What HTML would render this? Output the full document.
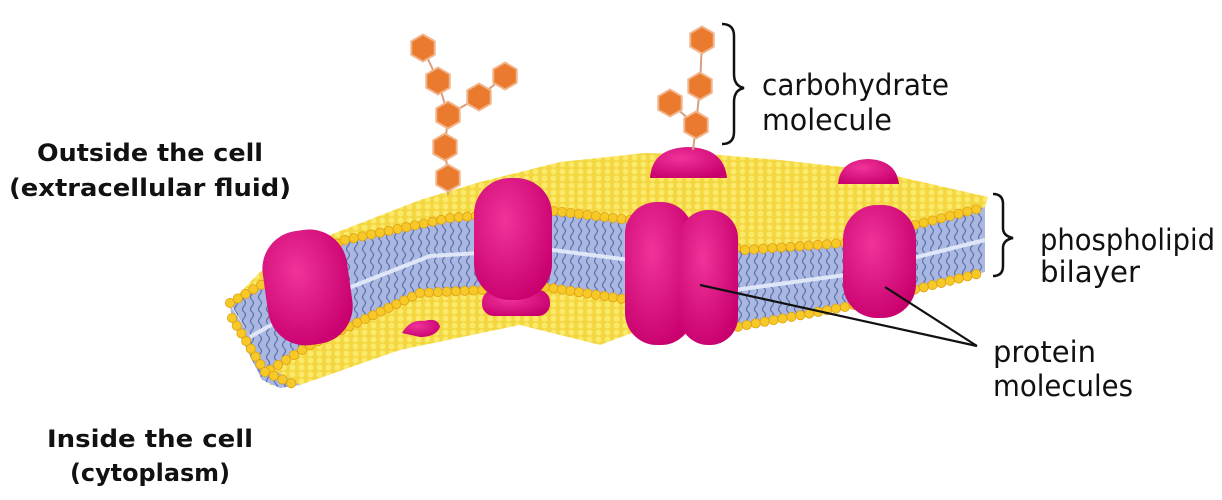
<!DOCTYPE html>
<html><head><meta charset="utf-8">
<style>
html,body{margin:0;padding:0;background:#fff;}
svg{display:block;}
text{font-family:"DejaVu Sans","Liberation Sans",sans-serif;fill:#111;}
</style></head>
<body>
<svg id="art" width="1222" height="500" viewBox="0 0 1222 500" xmlns="http://www.w3.org/2000/svg">
<defs>
<pattern id="wavy" width="8" height="12" patternUnits="userSpaceOnUse">
<rect width="8" height="12" fill="#aab8df"/>
<path d="M4 0 q3 3 0 6 q-3 3 0 6" stroke="#5f73b8" stroke-width="1.3" fill="none"/>
</pattern>
<radialGradient id="mag" cx="40%" cy="35%" r="70%">
<stop offset="0" stop-color="#f0339a"/><stop offset="1" stop-color="#c8006e"/>
</radialGradient>
<pattern id="dots" width="9" height="7" patternUnits="userSpaceOnUse">
<rect width="9" height="7" fill="#f3d640"/>
<circle cx="4.5" cy="3.5" r="3" fill="#fbe96a"/>
</pattern>
</defs>

<g>
<text x="150" y="161" text-anchor="middle" font-weight="bold" font-size="24" textLength="226" lengthAdjust="spacingAndGlyphs">Outside the cell</text>
<text x="150" y="196" text-anchor="middle" font-weight="bold" font-size="24" textLength="282" lengthAdjust="spacingAndGlyphs">(extracellular fluid)</text>
</g>
<g>
<text x="150" y="447" text-anchor="middle" font-weight="bold" font-size="24" textLength="206" lengthAdjust="spacingAndGlyphs">Inside the cell</text>
<text x="150" y="481" text-anchor="middle" font-weight="bold" font-size="24" textLength="160" lengthAdjust="spacingAndGlyphs">(cytoplasm)</text>
</g>
<text x="762" y="95" font-size="29" textLength="187" lengthAdjust="spacingAndGlyphs">carbohydrate</text>
<text x="762" y="130" font-size="29" textLength="130" lengthAdjust="spacingAndGlyphs">molecule</text>
<text x="1040" y="250" font-size="29" textLength="175" lengthAdjust="spacingAndGlyphs">phospholipid</text>
<text x="1040" y="282" font-size="29" textLength="100" lengthAdjust="spacingAndGlyphs">bilayer</text>
<text x="993" y="362" font-size="29" textLength="103" lengthAdjust="spacingAndGlyphs">protein</text>
<text x="993" y="396" font-size="29" textLength="140" lengthAdjust="spacingAndGlyphs">molecules</text>

<path d="M722 24 q12 0 12 12 v38 q0 12 10 14 q-10 2 -10 14 v30 q0 12 -12 12" fill="none" stroke="#111" stroke-width="2.5"/>
<path d="M993 194 q10 0 10 10 v24 q0 8 10 10 q-10 2 -10 10 v18 q0 10 -10 10" fill="none" stroke="#111" stroke-width="2.5"/>

<g id="membrane">
<polygon fill="url(#dots)" points="265,368 310,345 420,293 545,287 630,300 640,330 600,345 520,325 400,350 300,385 270,385"/>
<polygon fill="url(#wavy)" points="230,305 270,368 300,385 280,388 262,380 232,320"/>
<polygon fill="url(#dots)" points="230,303 300,262 345,240 450,218 545,210 630,220 745,250 845,243 985,207 988,197 870,170 780,160 720,155 645,153 560,162 480,182 420,200 330,235 260,272"/>
<polygon fill="url(#wavy)" points="230,303 300,262 345,240 450,218 545,210 630,220 745,250 845,243 985,207 985,272 845,307 720,330 630,300 545,287 420,293 310,345 270,370"/>
<polyline fill="none" stroke="#dfe6f8" stroke-width="4" points="250,337 310,303 430,256 545,249 630,260 735,290 845,275 985,240"/>
<g id="beads"></g>
</g>

<g fill="url(#mag)">
<rect x="265" y="230" width="85" height="115" rx="38" transform="rotate(-8 307 287)"/>
<rect x="482" y="290" width="68" height="26" rx="12"/>
<rect x="474" y="178" width="78" height="122" rx="36"/>
<rect x="625" y="202" width="68" height="143" rx="32"/>
<rect x="680" y="210" width="58" height="135" rx="28"/>
<rect x="843" y="205" width="73" height="113" rx="34"/>
<path d="M650 178 q2 -30 38 -31 q36 1 39 31 z"/>
<path d="M838 184 q2 -24 30 -25 q28 1 31 25 z"/>
<path d="M402 333 q8 -14 22 -12 q14 -4 16 6 q-4 10 -20 10 z"/>
</g>

<g id="carbs"></g>

<line x1="700" y1="285" x2="977" y2="346" stroke="#111" stroke-width="2.2"/>
<line x1="885" y1="287" x2="977" y2="346" stroke="#111" stroke-width="2.2"/>
</svg>
<script>
var NS="http://www.w3.org/2000/svg";
var beadRows=[
 [[230,303],[300,262],[345,240],[450,218],[545,210],[630,220],[745,250],[845,243],[985,207]],
 [[270,370],[310,345],[420,293],[545,287],[630,300],[720,330],[845,307],[985,272]],
 [[232,318],[265,372],[300,387]]
];
var beads=document.getElementById('beads');
beadRows.forEach(function(pts){
 for(var i=0;i<pts.length-1;i++){
  var a=pts[i],b=pts[i+1];
  var d=Math.hypot(b[0]-a[0],b[1]-a[1]);var n=Math.max(1,Math.round(d/9));
  for(var k=0;k<n;k++){
   var t=k/n;
   var c=document.createElementNS(NS,'circle');
   c.setAttribute('cx',a[0]+(b[0]-a[0])*t);
   c.setAttribute('cy',a[1]+(b[1]-a[1])*t);
   c.setAttribute('r',4.6);
   c.setAttribute('fill','#f6c928');
   c.setAttribute('stroke','#e0a010');
   c.setAttribute('stroke-width','0.8');
   
   
   beads.appendChild(c);
  }
 }
});
var chainLeft=[[423,48],[438,81],[448,115],[445,147],[448,178]];
var chainBranch=[[448,115],[479,97],[505,76]];
var chainRight=[[702,40],[700,86],[696,125]];
var chainRightBranch=[[696,125],[670,103]];
var carbs=document.getElementById('carbs');
function line(pts){
 var p=document.createElementNS(NS,'polyline');
 p.setAttribute('points',pts.map(function(q){return q.join(',');}).join(' '));
 p.setAttribute('fill','none');p.setAttribute('stroke','#d8a080');p.setAttribute('stroke-width','2');
 
 
 carbs.appendChild(p);
}
line(chainLeft);line(chainBranch);line(chainRight);line(chainRightBranch);
line([[448,178],[448,195]]);line([[696,125],[693,150]]);
function hex(c){
 var pts=[];for(var i=0;i<6;i++){var a=Math.PI/3*i+Math.PI/6;pts.push((c[0]+13.5*Math.cos(a)).toFixed(1)+','+(c[1]+13.5*Math.sin(a)).toFixed(1));}
 var h=document.createElementNS(NS,'polygon');
 h.setAttribute('points',pts.join(' '));
 h.setAttribute('fill','#ea7a2e');h.setAttribute('stroke','#f2b48a');h.setAttribute('stroke-width','2');
 
 
 carbs.appendChild(h);
}
chainLeft.concat(chainBranch.slice(1),chainRight,chainRightBranch.slice(1)).forEach(hex);
</script>
</body></html>
